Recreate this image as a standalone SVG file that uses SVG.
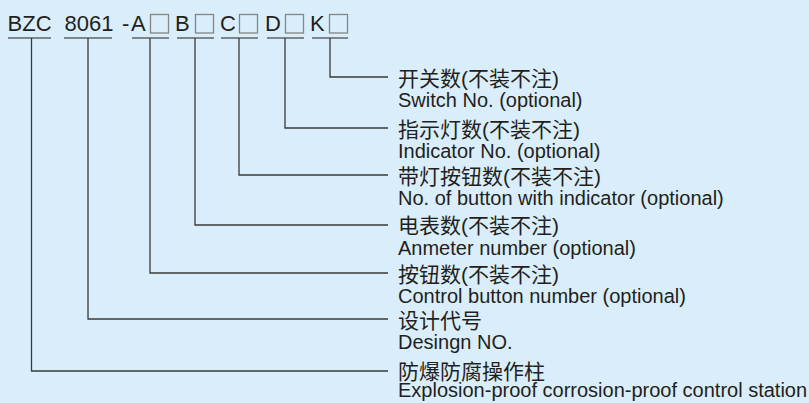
<svg xmlns="http://www.w3.org/2000/svg" width="809" height="403" viewBox="0 0 809 403">
  <style>
    .code { font-family: "Liberation Sans", Arial, sans-serif; font-size: 22px; fill: #231f20; }
    .zh { font-family: "Liberation Sans", "Noto Sans CJK SC", sans-serif; font-size: 21px; fill: #231f20; }
    .en { font-family: "Liberation Sans", Arial, sans-serif; font-size: 20px; fill: #231f20; }
    .ul { stroke: #231f20; stroke-width: 1.2; fill: none; }
    .box { stroke: #858585; stroke-width: 1.3; fill: none; }
    .conn { stroke: #3a3a3a; stroke-width: 1.3; fill: none; }
  </style>
  <rect width="809" height="403" fill="#d9eefa"/>

  <g id="code">
    <text class="code" x="7.6" y="31">BZC</text>
    <text class="code" x="64.5" y="31">8061</text>
    <text class="code" x="122" y="31">-</text>
    <text class="code" x="131" y="31">A</text>
    <text class="code" x="175" y="31">B</text>
    <text class="code" x="220" y="31">C</text>
    <text class="code" x="265" y="31">D</text>
    <text class="code" x="310" y="31">K</text>
    <rect class="box" x="150.5" y="14.5" width="18" height="18.5"/>
    <rect class="box" x="195.5" y="14.5" width="18" height="18.5"/>
    <rect class="box" x="239.5" y="14.5" width="18" height="18.5"/>
    <rect class="box" x="285.5" y="14.5" width="18" height="18.5"/>
    <rect class="box" x="329.5" y="14.5" width="18" height="18.5"/>
    <path class="ul" d="M8,38H51 M64,38H112 M132,38H169 M177,38H214 M221,38H258 M267,38H304 M312,38H348"/>
  </g>

  <g id="connectors">
    <path class="conn" d="M330,38V77H388"/>
    <path class="conn" d="M285,38V128H388"/>
    <path class="conn" d="M239,38V175H388"/>
    <path class="conn" d="M195,38V225H388"/>
    <path class="conn" d="M150,38V273H388"/>
    <path class="conn" d="M88,38V319H388"/>
    <path class="conn" d="M31.5,38V371H388"/>
  </g>

  <g id="switch">
    <text class="zh" x="398" y="86">开关数(不装不注)</text>
    <text class="en" x="398" y="107">Switch No. (optional)</text>
  </g>
  <g id="indicator">
    <text class="zh" x="398" y="137">指示灯数(不装不注)</text>
    <text class="en" x="398" y="158">Indicator No. (optional)</text>
  </g>
  <g id="button-indicator">
    <text class="zh" x="398" y="184">带灯按钮数(不装不注)</text>
    <text class="en" x="398" y="205">No. of button with indicator (optional)</text>
  </g>
  <g id="anmeter">
    <text class="zh" x="398" y="233">电表数(不装不注)</text>
    <text class="en" x="398" y="254.5">Anmeter number  (optional)</text>
  </g>
  <g id="control-button">
    <text class="zh" x="398" y="282">按钮数(不装不注)</text>
    <text class="en" x="398" y="303">Control button number (optional)</text>
  </g>
  <g id="design">
    <text class="zh" x="398" y="328">设计代号</text>
    <text class="en" x="398" y="349">Desingn NO.</text>
  </g>
  <g id="station">
    <text class="zh" x="398" y="379">防爆防腐操作柱</text>
    <text class="en" x="398" y="397">Explosion-proof corrosion-proof control station</text>
  </g>
</svg>
